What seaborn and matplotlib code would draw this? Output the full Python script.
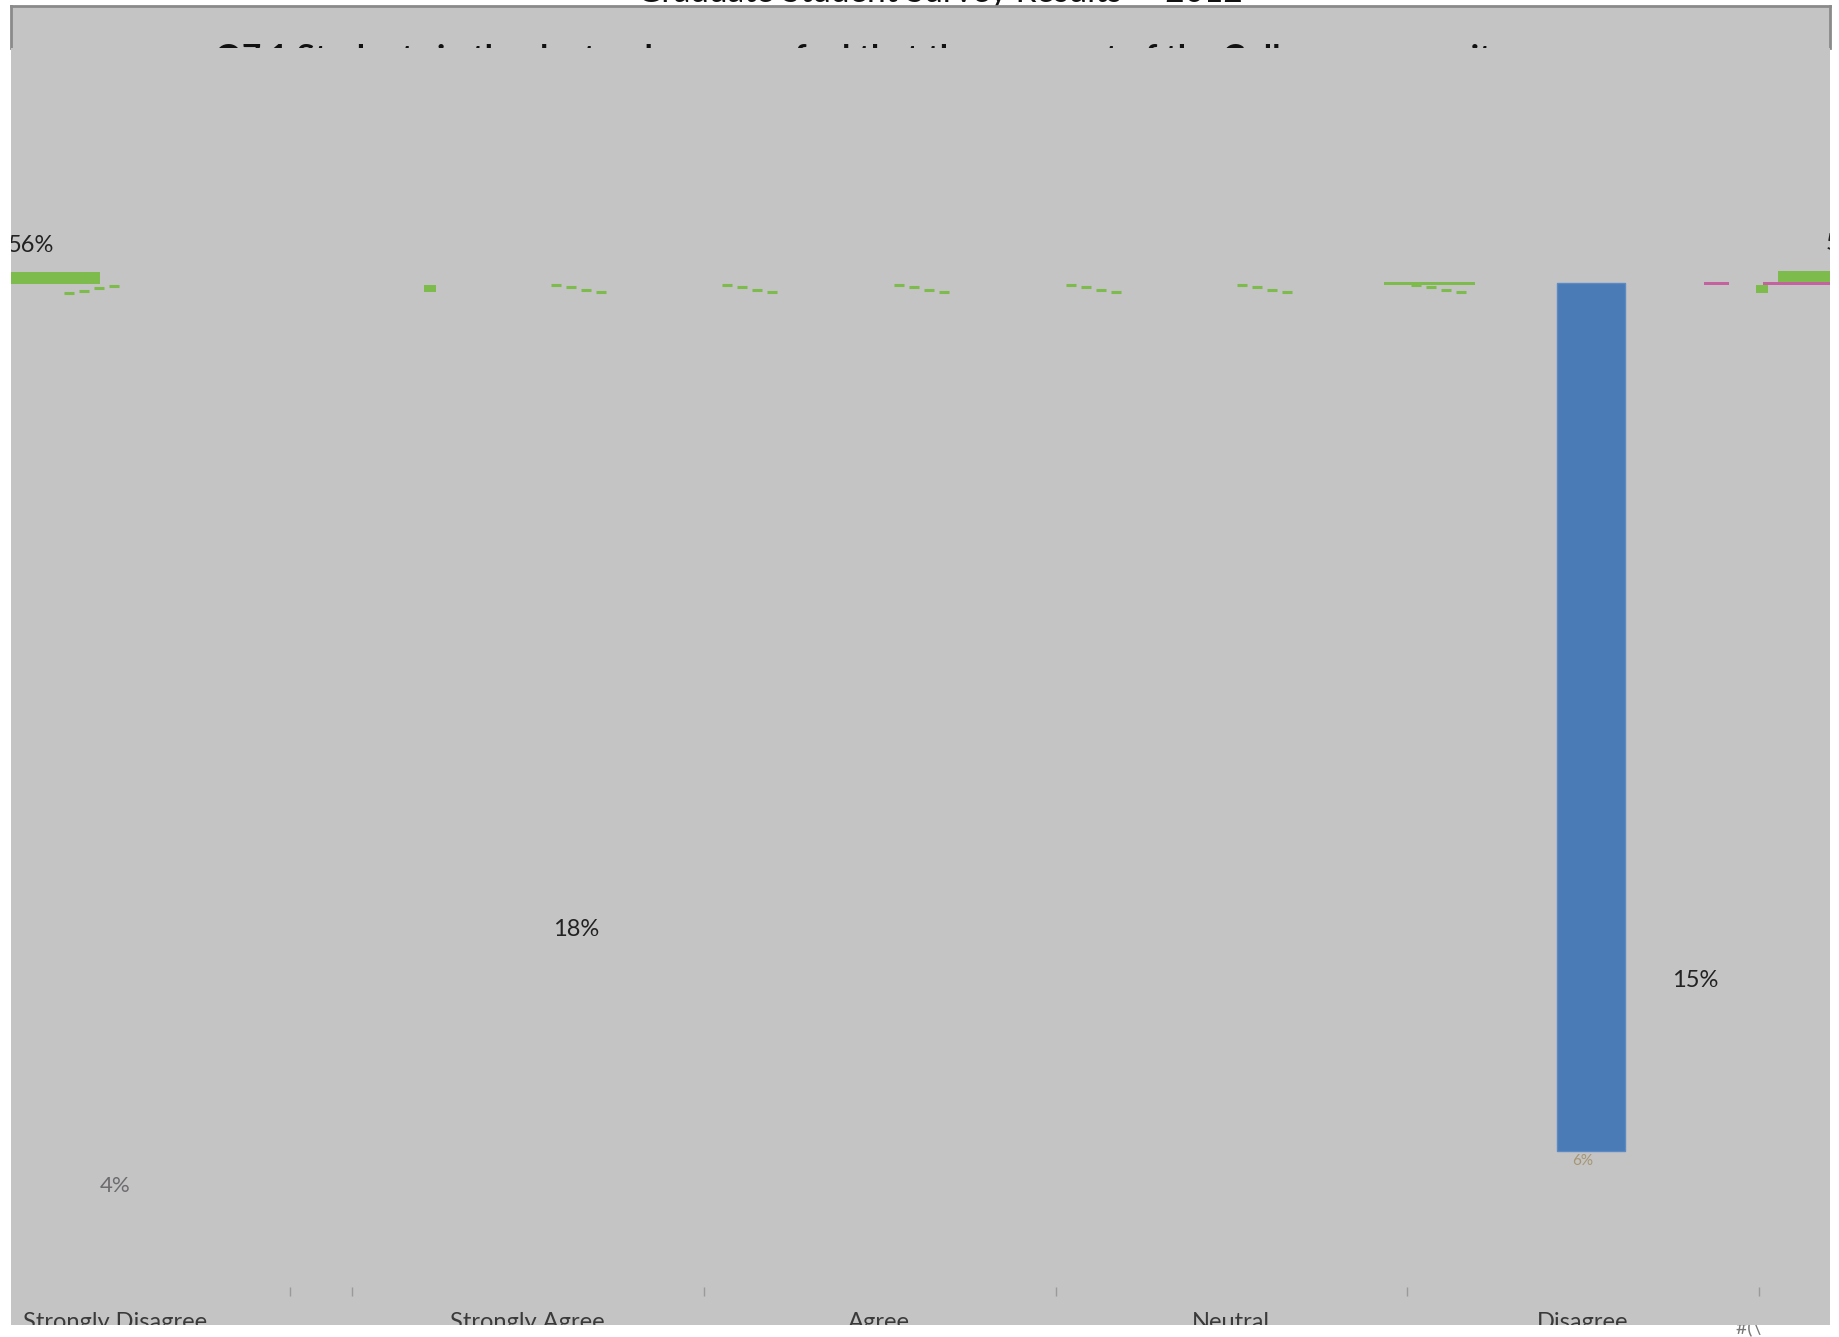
"""Столбчатая диаграмма Q7.1 (распределение ответов), воспроизведение снимка с артефактами."""

import matplotlib
matplotlib.use("Agg")
import matplotlib.pyplot as plt
from matplotlib.patches import Rectangle
import numpy as np
import pandas as pd
import seaborn as sns

W, H, DPI = 1839, 1337, 100
GRAY = "#C4C4C4"
BLUE = "#4A7BB7"
GREEN = "#7DBB4C"
PINK = "#C462A0"
FONT = ["Lato", "DejaVu Sans"]

categories = ["Strongly Disagree", "Strongly Agree", "Agree", "Neutral", "Disagree"]
shares = [4, 18, 56, 15, 6]
# на снимке уцелел только столбец Disagree
bar_drawn = [np.nan, np.nan, np.nan, np.nan, 6]
pct_labels = [f"{v}%" for v in shares]

top_title = "Graduate Student Survey Results \u2014 2012"
header_title = ("Q7.1 Students in the doctoral program feel that they are "
                "part of the College community")

# Раскладка (в единицах осей): где оказались подписи на снимке.
label_x = [-0.193, 0.977, 1.977, 2.977, 3.977]
pct_pos = {"4%": (-0.193, 6.24), "18%": (1.117, 4.47), "56%": (-0.367, -0.256),
           "15%": (4.297, 4.82), "6%": (3.977, 6.07)}
bounds = [0.304, 0.48, 1.48, 2.48, 3.477, 4.477]

AX_L, AX_R, AX_T, AX_B = 11, 1830, 48, 1325   # пиксели области графика
HEAD_T = 6


def fx(px):
    return (px - AX_L) / (AX_R - AX_L)


def fy(py):
    return (AX_B - py) / (AX_B - AX_T)


sns.set_theme(style="white")
plt.rcParams["font.family"] = FONT

fig = plt.figure(figsize=(W / DPI, H / DPI), dpi=DPI, facecolor="white")

# Верхний заголовок: виден только низ строки над рамкой.
fig.text(940 / W, 1 - 2 / H, top_title, ha="center", va="baseline",
         fontsize=24, color="#111111", zorder=-1)

# Шапка в рамке.
head = fig.add_axes([AX_L / W, 1 - AX_T / H, (AX_R - AX_L) / W, (AX_T - HEAD_T) / H])
head.set_facecolor(GRAY)
head.set_xticks([])
head.set_yticks([])
for side in ["top", "left", "right"]:
    head.spines[side].set_color("#8A8A8A")
    head.spines[side].set_linewidth(2)
head.spines["bottom"].set_visible(False)
head.text(0.468, 0.10, header_title, transform=head.transAxes, ha="center",
          va="top", fontsize=24, fontweight="bold", color="#111111", clip_on=False)

# Основная область.
ax = fig.add_axes([AX_L / W, 1 - AX_B / H, (AX_R - AX_L) / W, (AX_B - AX_T) / H])
ax.set_facecolor(GRAY)
df = pd.DataFrame({"answer": categories, "share": bar_drawn})
sns.barplot(data=df, x="answer", y="share", order=categories, color=BLUE,
            saturation=1, width=0.193, errorbar=None, edgecolor="#5B8AC4",
            linewidth=1, ax=ax)
ax.set_xlim(-0.489, 4.679)
ax.set_ylim(7.201, -1.624)
ax.set_xticks([])
ax.set_yticks([])
ax.set_xlabel("")
ax.set_ylabel("")
for s in ax.spines.values():
    s.set_visible(False)

# Подписи категорий, обрезанные нижним краем.
for name, x in zip(categories, label_x):
    ax.text(x, fy(1312), name, transform=ax.get_xaxis_transform(), ha="center",
            va="top", fontsize=17, color="#3A3A3A", clip_on=True)

# Засечки между категориями.
ax.vlines(bounds, 6.94, 7.0, color="#9A9A9A", lw=1)

# Процентные подписи.
for lab in ["18%", "15%"]:
    x, y = pct_pos[lab]
    ax.text(x, y, lab, ha="center", va="center", fontsize=17, color="#222222")
x, y = pct_pos["56%"]
ax.text(x, y, "56%", ha="right", va="center", fontsize=17, color="#222222",
        clip_on=True)
ax.text(4.667, y - 0.02, "56%", ha="left", va="center", fontsize=17,
        color="#222222", clip_on=True)
x, y = pct_pos["4%"]
ax.text(x, y, "4%", ha="center", va="center", fontsize=16, color="#5E5A62",
        alpha=0.85)
x, y = pct_pos["6%"]
ax.text(x, y, "6%", ha="center", va="center", fontsize=11, color="#9C8A60",
        alpha=0.8)

# Осколки зелёных и розовых элементов у верхней линии.
blocks = [(11, 272, 100, 284, GREEN), (1778, 271, 1830, 283, GREEN),
          (424, 285, 436, 292, GREEN), (1756, 285, 1768, 293, GREEN),
          (1704, 282, 1729, 285, PINK), (1763, 282, 1830, 285, PINK),
          (1384, 282, 1475, 285, GREEN)]
for x0, y0, x1, y1, col in blocks:
    ax.add_patch(Rectangle((fx(x0), fy(y1)), fx(x1) - fx(x0), fy(y0) - fy(y1),
                           transform=ax.transAxes, color=col, lw=0))

dash_groups = [(64, 293, -1), (551, 285, 1), (722, 285, 1), (894, 285, 1),
               (1066, 285, 1), (1237, 285, 1), (1411, 285, 1)]
for x0, y0, step in dash_groups:
    for k in range(4):
        xa = x0 + k * 15
        ya = y0 + step * k * 2.3
        ax.plot([fx(xa), fx(xa + 10)], [fy(ya), fy(ya)], transform=ax.transAxes,
                color=GREEN, lw=2.2, solid_capstyle="butt")

# Обрывок текста под областью.
fig.text(1736 / W, 1 - 1318 / H, "#(\\ '' ''' '", ha="left", va="top",
         fontsize=14, color="#777777", zorder=-1)

fig.savefig("out.png", dpi=DPI, facecolor="white")
